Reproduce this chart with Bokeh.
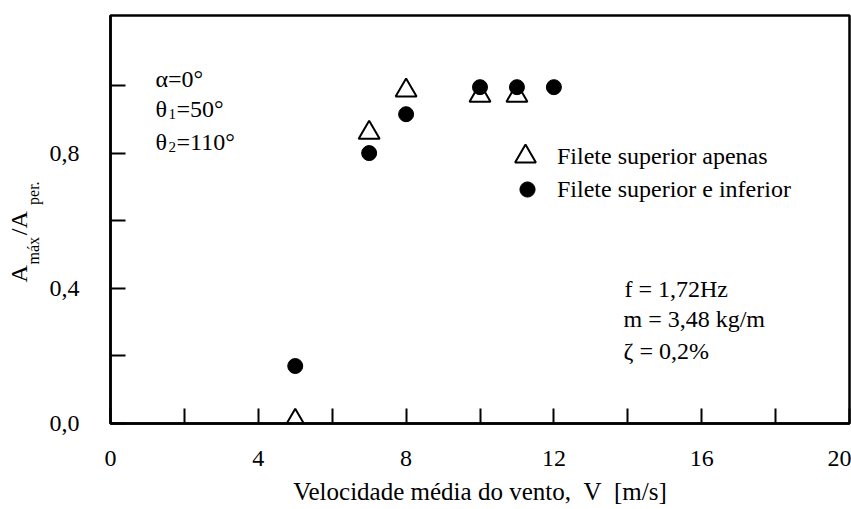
from bokeh.plotting import figure
from bokeh.models import Label, Legend, LegendItem, FixedTicker, Title
from bokeh.embed import file_html
from bokeh.resources import INLINE

# ---- data ----
v_superior = [5, 7, 8, 10, 11]
a_superior = [0.008, 0.86, 0.985, 0.97, 0.97]
v_ambos = [5, 7, 8, 10, 11, 12]
a_ambos = [0.17, 0.80, 0.915, 0.995, 0.995, 0.995]

x_ticks = [0, 4, 8, 12, 16, 20]
x_minor = [2, 6, 10, 14, 18]
y_ticks = [0.0, 0.4, 0.8]
y_minor = [0.2, 0.6, 1.0]
y_tick_labels = ["0,0", "0,4", "0,8"]

legend_sup = "Filete superior apenas"
legend_amb = "Filete superior e inferior"
x_title = "Velocidade média do vento,\u00a0\u00a0V\u00a0\u00a0[m/s]"
NB = "\u00a0"

FONT = "Liberation Serif"
FS = "24px"

W, H = 851, 509
FL, FT, FR, FB = 110, 15, 849, 423   # frame edges in page pixels

p = figure(width=W, height=H, x_range=(0, 20), y_range=(0, 1.207),
           output_backend="svg", toolbar_location=None,
           min_border_left=FL, min_border_right=W - FR, min_border_top=FT,
           min_border_bottom=H - FB)
p.xgrid.visible = False
p.ygrid.visible = False
p.outline_line_color = "black"
p.outline_line_width = 2.5
p.background_fill_color = "white"
p.border_fill_color = "white"

for ax in (p.xaxis[0], p.yaxis[0]):
    ax.axis_line_width = 2.5
    ax.axis_line_color = "black"
    ax.major_tick_in = 15
    ax.major_tick_out = 0
    ax.minor_tick_in = 15
    ax.minor_tick_out = 0
    ax.major_tick_line_width = 2
    ax.minor_tick_line_width = 2
    ax.major_tick_line_color = "black"
    ax.minor_tick_line_color = "black"
    ax.major_label_text_font = FONT
    ax.major_label_text_font_size = FS
    ax.major_label_text_color = "black"

p.xaxis.ticker = FixedTicker(ticks=x_ticks, minor_ticks=x_minor)
p.yaxis.ticker = FixedTicker(ticks=y_ticks, minor_ticks=y_minor)
p.xaxis.major_label_overrides = {t: str(t) for t in x_ticks}
p.yaxis.major_label_overrides = {t: l for t, l in zip(y_ticks, y_tick_labels)}
p.xaxis.major_label_standoff = 27
p.yaxis.major_label_standoff = 31

p.xaxis.axis_label = x_title
p.xaxis.axis_label_text_font = FONT
p.xaxis.axis_label_text_font_size = "25px"
p.xaxis.axis_label_text_font_style = "normal"
p.xaxis.axis_label_text_color = "black"
p.xaxis.axis_label_standoff = 9

# y axis title: subscripts column (next to axis) and main column
sub_title = Title(text="máx" + NB * 8 + "per.", align="left", offset=159,
                  vertical_align="bottom", standoff=9,
                  text_font=FONT, text_font_size="16px",
                  text_font_style="normal", text_color="black")
main_title = Title(text="A" + NB * 5 + "/A", align="left", offset=141,
                   vertical_align="bottom", standoff=-27,
                   text_font=FONT, text_font_size=FS,
                   text_font_style="normal", text_color="black")
p.add_layout(sub_title, "left")
p.add_layout(main_title, "left")

r_sup = p.scatter(v_superior, a_superior, marker="triangle", size=21,
                  fill_alpha=0, line_color="black", line_width=2)
r_amb = p.scatter(v_ambos, a_ambos, marker="circle", size=15,
                  fill_color="black", line_color="black", line_width=1)

# legends (two, so that marker sizes can differ)
def make_legend(item_label, renderer, glyph, x0, yc, text_x):
    lg = Legend(items=[LegendItem(label=item_label, renderers=[renderer])],
                glyph_width=glyph, glyph_height=glyph, label_height=glyph,
                label_standoff=int(text_x - (x0 + glyph)), padding=0, margin=0,
                spacing=0, border_line_alpha=0, background_fill_alpha=0,
                label_text_font=FONT, label_text_font_size=FS,
                label_text_color="black",
                location=(x0 - FL, FB - (yc + glyph / 2)))
    p.add_layout(lg)

make_legend(legend_sup, r_sup, 52, 499, 156, 557)
make_legend(legend_amb, r_amb, 38, 508, 189, 557)

def lab(text, X, Y, size=FS):
    p.add_layout(Label(x=X - FL, y=FB - Y, x_units="screen", y_units="screen",
                       text=text, text_font=FONT, text_font_size=size,
                       text_baseline="alphabetic", text_align="left",
                       text_color="black"))

# parameter annotations (upper left)
lab("α=0°", 155, 78)
lab("θ", 155, 108)
lab("1", 168, 113, size="15px")
lab("=50°", 176, 108)
lab("θ", 155, 141)
lab("2", 168, 146, size="15px")
lab("=110°", 176, 141)

# structural parameters (lower right)
lab("f = 1,72Hz", 624, 288)
lab("m = 3,48 kg/m", 623, 318)
lab("ζ = 0,2%", 623, 350)

open("out.html", "w").write(file_html(p, INLINE))
